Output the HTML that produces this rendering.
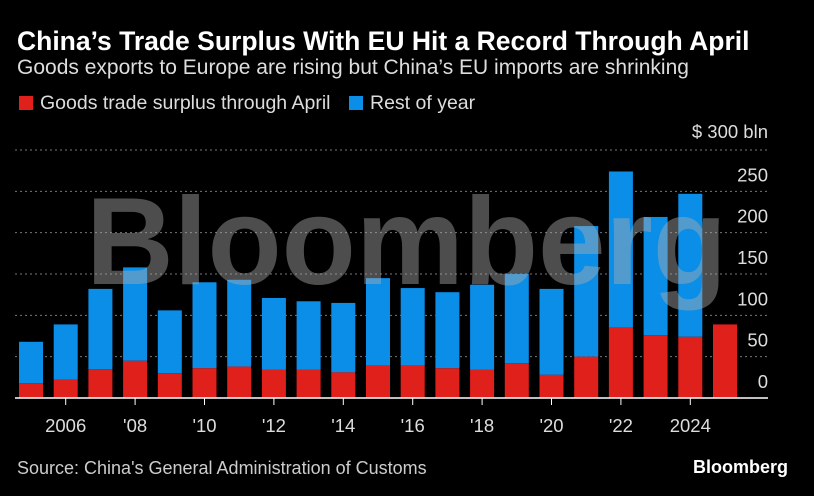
<!DOCTYPE html>
<html><head><meta charset="utf-8"><style>
body{margin:0;background:#000;width:814px;height:496px;overflow:hidden;font-family:"Liberation Sans",sans-serif;color:#fff}
.t{position:absolute;left:17px;top:26px;font-size:26.5px;font-weight:bold;margin:0;white-space:nowrap}
.s{position:absolute;left:17px;top:56px;font-size:21px;color:#ddd;white-space:nowrap}
.lg{position:absolute;top:92px;font-size:19.5px;color:#ddd;white-space:nowrap}
.sw{display:inline-block;width:14px;height:14px;vertical-align:-1px;margin-right:7px}
.src{position:absolute;left:17px;top:458px;font-size:18px;color:#ccc}
.bb{position:absolute;right:26px;top:457px;font-size:18px;font-weight:bold}
</style></head><body>
<h1 class="t">China’s Trade Surplus With EU Hit a Record Through April</h1>
<div class="s">Goods exports to Europe are rising but China’s EU imports are shrinking</div>
<div class="lg" style="left:19px"><span class="sw" style="background:#e0201b"></span>Goods trade surplus through April</div>
<div class="lg" style="left:349px"><span class="sw" style="background:#0a8ee8"></span>Rest of year</div>
<svg id="c" width="814" height="496" style="position:absolute;left:0;top:0"></svg>
<div class="src">Source: China's General Administration of Customs</div>
<div class="bb">Bloomberg</div>
<script>
const years=[2005,2006,2007,2008,2009,2010,2011,2012,2013,2014,2015,2016,2017,2018,2019,2020,2021,2022,2023,2024,2025];
const surplusApr=[18,22,35,45,30,36,38,34,34,31,39,39,36,34,42,28,50,85,76,74,89];
const fullYear=[68,89,132,158,106,140,143,121,117,115,145,133,128,137,150,132,208,274,219,247,null];
const yTicks=[0,50,100,150,200,250,300];
const xTickYears=[2006,2008,2010,2012,2014,2016,2018,2020,2022,2024];
const xTickLabels=["2006","'08","'10","'12","'14","'16","'18","'20","'22","2024"];
const NS='http://www.w3.org/2000/svg',svg=document.getElementById('c');
const y0=398,k=248/300,x=yr=>31+(yr-2005)*34.7,y=v=>y0-v*k,bw=24;
function el(t,a,txt){const e=document.createElementNS(NS,t);for(const n in a)e.setAttribute(n,a[n]);if(txt!=null)e.textContent=txt;svg.appendChild(e);return e;}
yTicks.forEach(v=>{
  if(v>0){const g=el('line',{x1:15,x2:768,y1:y(v),y2:y(v),stroke:'#777','stroke-dasharray':'2,3'});
  
  }
  const t=el('text',{x:768,y:y(v)-(v==300?12:10),'text-anchor':'end','font-size':18.5,fill:'#ddd','font-family':'Liberation Sans'},v==300?'$ 300 bln':v);
  
  
});
years.forEach((yr,i)=>{
  if(fullYear[i]!=null){const r=el('rect',{x:x(yr)-bw/2,y:y(fullYear[i]),width:bw,height:y(surplusApr[i])-y(fullYear[i]),fill:'#0a8ee8'});
  
  }
  const r2=el('rect',{x:x(yr)-bw/2,y:y(surplusApr[i]),width:bw,height:y0-y(surplusApr[i]),fill:'#e0201b'});
  
  
});
const b=el('line',{x1:15,x2:768,y1:y0,y2:y0,stroke:'#fff','stroke-width':1.5});


xTickYears.forEach((yr,i)=>{
  el('line',{x1:x(yr),x2:x(yr),y1:y0,y2:y0+7,stroke:'#fff'});
  const t=el('text',{x:x(yr),y:432,'text-anchor':'middle','font-size':18.5,fill:'#ddd','font-family':'Liberation Sans'},xTickLabels[i]);
  
  
});
const w=el('text',{x:86,y:284,'font-size':124,'font-weight':'bold',fill:'#aaa','fill-opacity':0.45,'font-family':'Liberation Sans',textLength:641,lengthAdjust:'spacingAndGlyphs'},'Bloomberg');


</script>
</body></html>
